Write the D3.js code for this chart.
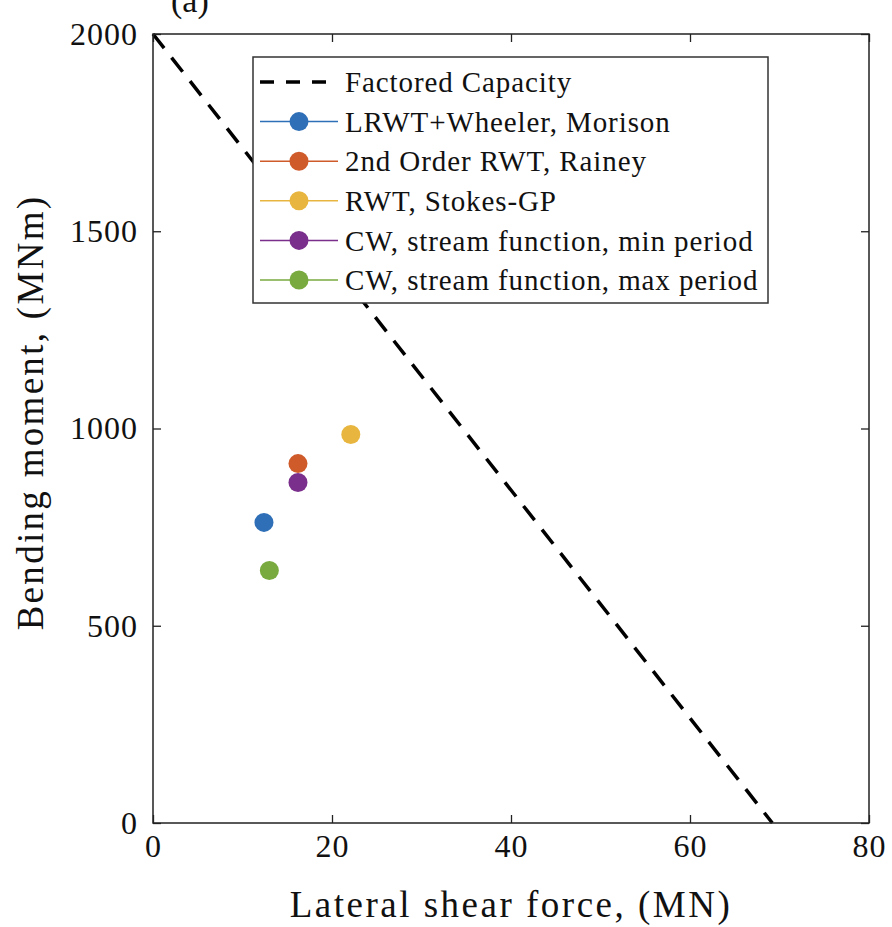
<!DOCTYPE html>
<html lang="en">
<head>
<meta charset="UTF-8">
<title>Bending moment vs lateral shear force</title>
<script src="https://d3js.org/d3.v7.min.js"></script>
<style>
  body { margin: 0; background: #fff; }
  text { font-family: "Liberation Serif", "DejaVu Serif", serif; fill: #111; }
</style>
</head>
<body>
<div id="chart"></div>
<script>
// data
var seriesNames = ["LRWT+Wheeler, Morison", "2nd Order RWT, Rainey", "RWT, Stokes-GP",
                   "CW, stream function, min period", "CW, stream function, max period"];
var seriesColors = ["#2f6fb7", "#cf5a2a", "#e8b53e", "#7a2f8c", "#79aa3f"];
var shearForce = [12.4, 16.2, 22.1, 16.2, 13.0];     // MN
var bendingMoment = [762, 911, 985, 863, 640];       // MNm
var capacityShear = [0, 69.2];
var capacityMoment = [2000, 0];
var xTicks = [0, 20, 40, 60, 80];
var yTicks = [0, 500, 1000, 1500, 2000];

var W = 892, H = 927;
var margin = {top: 34, right: 23, bottom: 104, left: 153};
var width = W - margin.left - margin.right,
    height = H - margin.top - margin.bottom;

var svg = d3.select("#chart").append("svg")
    .attr("width", W).attr("height", H);

var g = svg.append("g")
    .attr("transform", "translate(" + margin.left + "," + margin.top + ")");

var x = d3.scaleLinear().domain([0, 80]).range([0, width]);
var y = d3.scaleLinear().domain([0, 2000]).range([height, 0]);

// capacity line
var line = d3.line()
    .x(function(d) { return x(d[0]); })
    .y(function(d) { return y(d[1]); });
var capData = capacityShear.map(function(v, i) { return [v, capacityMoment[i]]; });

g.append("path")
    .datum(capData)
    .attr("d", line)
    .attr("fill", "none")
    .attr("stroke", "#000")
    .attr("stroke-width", 3.5)
    .attr("stroke-dasharray", "18,12");

// points
g.append("g").selectAll("circle")
    .data(shearForce)
    .enter().append("circle")
    .attr("cx", function(d) { return x(d); })
    .attr("cy", function(d, i) { return y(bendingMoment[i]); })
    .attr("r", 9.5)
    .style("fill", function(d, i) { return seriesColors[i]; });

// axes with inward ticks (box on all sides)
var fmt = d3.format("d");
var axisStyle = function(sel) {
    sel.select(".domain").remove();
    sel.selectAll("line").attr("stroke", "#222").attr("stroke-width", 1.3);
    sel.selectAll("text")
        .attr("font-family", null).attr("fill", "#111")
        .style("font-size", "32px").style("letter-spacing", "1px");
};
g.append("g")
    .attr("transform", "translate(0," + height + ")")
    .call(d3.axisBottom(x).tickValues(xTicks).tickFormat(fmt).tickSizeInner(-8).tickSizeOuter(0).tickPadding(11))
    .call(axisStyle);
g.append("g")
    .call(d3.axisLeft(y).tickValues(yTicks).tickFormat(fmt).tickSizeInner(-8).tickSizeOuter(0).tickPadding(15))
    .call(axisStyle);
g.append("g")
    .call(d3.axisTop(x).tickValues(xTicks).tickSizeInner(-8).tickSizeOuter(0).tickFormat(""))
    .call(axisStyle);
g.append("g")
    .attr("transform", "translate(" + width + ",0)")
    .call(d3.axisRight(y).tickValues(yTicks).tickSizeInner(-8).tickSizeOuter(0).tickFormat(""))
    .call(axisStyle);

g.append("rect")
    .attr("width", width).attr("height", height)
    .attr("fill", "none").attr("stroke", "#222").attr("stroke-width", 1.5);

// axis labels
g.append("text")
    .attr("text-anchor", "middle")
    .attr("x", width / 2)
    .attr("y", height + 94)
    .style("font-size", "37px")
    .style("letter-spacing", "2.5px")
    .text("Lateral shear force, (MN)");

g.append("text")
    .attr("text-anchor", "middle")
    .attr("transform", "rotate(-90)")
    .attr("x", -height / 2 + 16)
    .attr("y", -110)
    .style("font-size", "37px")
    .style("letter-spacing", "2.3px")
    .text("Bending moment, (MNm)");

// panel label (cut off at top, as in the original)
svg.append("text")
    .attr("x", 171)
    .attr("y", 12)
    .style("font-size", "34px")
    .text("(a)");

// legend
var legend = g.append("g").attr("transform", "translate(100,23)");
legend.append("rect")
    .attr("width", 515).attr("height", 246)
    .attr("fill", "#fff").attr("stroke", "#333").attr("stroke-width", 1.5);

var legendItems = ["Factored Capacity"].concat(seriesNames);
var rows = legend.selectAll(".legend")
    .data(legendItems)
    .enter().append("g")
    .attr("class", "legend")
    .attr("transform", function(d, i) { return "translate(0," + (25 + i * 39.6) + ")"; });

rows.append("line")
    .attr("x1", 7).attr("x2", 85)
    .attr("stroke", function(d, i) { return i === 0 ? "#000" : seriesColors[i - 1]; })
    .attr("stroke-width", function(d, i) { return i === 0 ? 3.5 : 1.5; })
    .attr("stroke-dasharray", function(d, i) { return i === 0 ? "14,12" : null; });

rows.filter(function(d, i) { return i > 0; })
    .append("circle")
    .attr("cx", 46)
    .attr("r", 9.5)
    .style("fill", function(d) { return seriesColors[seriesNames.indexOf(d)]; });

rows.append("text")
    .attr("x", 92)
    .attr("dy", "0.35em")
    .style("font-size", "29px")
    .style("letter-spacing", "0.9px")
    .text(function(d) { return d; });
</script>
</body>
</html>
